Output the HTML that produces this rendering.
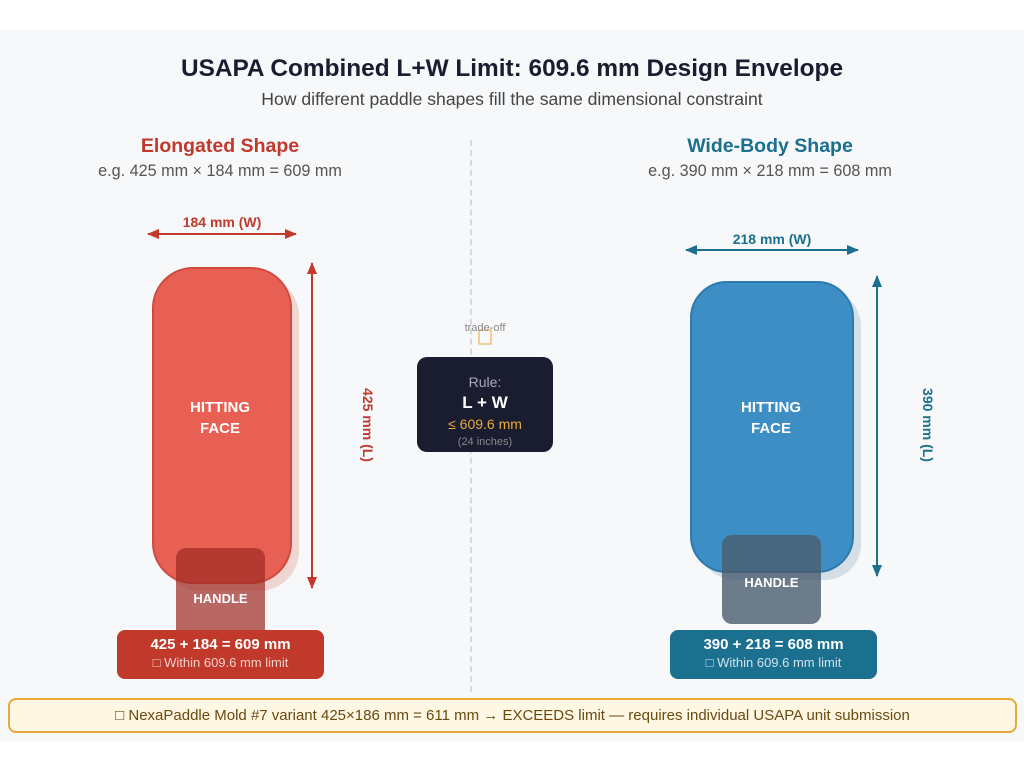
<!DOCTYPE html>
<html><head><meta charset="utf-8"><style>
body{margin:0;width:1024px;height:768px;background:#fff;font-family:"Liberation Sans",sans-serif;position:relative;overflow:hidden}
.a{position:absolute}
.c{text-align:center}
</style></head><body>
<div class="a" style="left:0;top:30px;width:1024px;height:712px;background:#f6f8fa"></div>
<div class="a c" style="left:0;top:55px;width:1024px;font-size:24.4px;font-weight:bold;color:#1a1c30">USAPA Combined L+W Limit: 609.6 mm Design Envelope</div>
<div class="a c" style="left:0;top:89px;width:1024px;font-size:17.6px;color:#444">How different paddle shapes fill the same dimensional constraint</div>
<div class="a" style="left:470px;top:140px;height:552px;border-left:2px dashed #d5d8dc"></div>

<div class="a c" style="left:70px;top:135px;width:300px;font-size:19.5px;font-weight:bold;color:#c0392b">Elongated Shape</div>
<div class="a c" style="left:70px;top:162px;width:300px;font-size:16.2px;color:#555">e.g. 425 mm × 184 mm = 609 mm</div>
<div class="a c" style="left:620px;top:135px;width:300px;font-size:19.5px;font-weight:bold;color:#1b6f8f">Wide-Body Shape</div>
<div class="a c" style="left:620px;top:162px;width:300px;font-size:16.2px;color:#555">e.g. 390 mm × 218 mm = 608 mm</div>

<svg class="a" style="left:0;top:0" width="1024" height="768">
<defs>
<marker id="r" markerUnits="userSpaceOnUse" markerWidth="12" markerHeight="10" refX="11" refY="5" orient="auto-start-reverse"><path d="M0,0L12,5L0,10z" fill="#c0392b"/></marker>
<marker id="b" markerUnits="userSpaceOnUse" markerWidth="12" markerHeight="10" refX="11" refY="5" orient="auto-start-reverse"><path d="M0,0L12,5L0,10z" fill="#1b6f8f"/></marker>
</defs>
<line x1="148" y1="234" x2="296" y2="234" stroke="#c0392b" stroke-width="2" marker-start="url(#r)" marker-end="url(#r)"/>
<line x1="312" y1="263" x2="312" y2="588" stroke="#c0392b" stroke-width="2" marker-start="url(#r)" marker-end="url(#r)"/>
<rect x="161" y="276" width="138" height="315" rx="40" fill="#f0d6d3"/>
<rect x="153" y="268" width="138" height="315" rx="40" fill="#e85f54" stroke="#cf4b40" stroke-width="2"/>
<rect x="176" y="548" width="89" height="92" rx="10" fill="#9e2a22" fill-opacity="0.7"/>
<line x1="686" y1="250" x2="858" y2="250" stroke="#1b6f8f" stroke-width="2" marker-start="url(#b)" marker-end="url(#b)"/>
<line x1="877" y1="276" x2="877" y2="576" stroke="#1b6f8f" stroke-width="2" marker-start="url(#b)" marker-end="url(#b)"/>
<rect x="699" y="290" width="162" height="290" rx="36" fill="#d3dee5"/>
<rect x="691" y="282" width="162" height="290" rx="36" fill="#3d8ec4" stroke="#2d7aae" stroke-width="2"/>
<rect x="722" y="535" width="99" height="89" rx="10" fill="#4a5d6e" fill-opacity="0.8"/>
<text x="363" y="425" transform="rotate(90 363 425)" text-anchor="middle" font-family="Liberation Sans" font-size="14" font-weight="bold" fill="#c0392b">425 mm (L)</text>
<text x="923" y="425" transform="rotate(90 923 425)" text-anchor="middle" font-family="Liberation Sans" font-size="14" font-weight="bold" fill="#1b6f8f">390 mm (L)</text>
<rect x="479" y="330" width="12" height="14" fill="none" stroke="#e8a93a" stroke-width="1"/>
</svg>
<div class="a c" style="left:148px;top:214px;width:148px;font-size:14px;font-weight:bold;color:#c0392b">184 mm (W)</div>
<div class="a c" style="left:686px;top:231px;width:172px;font-size:14px;font-weight:bold;color:#1b6f8f">218 mm (W)</div>
<div class="a c" style="left:153px;top:397px;width:134px;font-size:15px;font-weight:bold;color:#fff;line-height:21px">HITTING<br>FACE</div>
<div class="a c" style="left:691px;top:397px;width:160px;font-size:15px;font-weight:bold;color:#fff;line-height:21px">HITTING<br>FACE</div>
<div class="a c" style="left:176px;top:591px;width:89px;font-size:13px;font-weight:bold;color:#fff">HANDLE</div>
<div class="a c" style="left:722px;top:575px;width:99px;font-size:13px;font-weight:bold;color:#fff">HANDLE</div>
<div class="a c" style="left:117px;top:630px;width:207px;height:49px;background:#c0392b;border-radius:8px;color:#fff">
<div style="font-size:15px;font-weight:bold;margin-top:6px">425 + 184 = 609 mm</div>
<div style="font-size:13px;color:#f3cfcb;margin-top:2px">□ Within 609.6 mm limit</div></div>
<div class="a c" style="left:670px;top:630px;width:207px;height:49px;background:#1b6f8f;border-radius:8px;color:#fff">
<div style="font-size:15px;font-weight:bold;margin-top:6px">390 + 218 = 608 mm</div>
<div style="font-size:13px;color:#cfe3ec;margin-top:2px">□ Within 609.6 mm limit</div></div>
<div class="a c" style="left:440px;top:322px;width:90px;font-size:11px;color:#888">trade-off</div>
<div class="a c" style="left:417px;top:357px;width:136px;height:95px;background:#1a1c30;border-radius:10px">
<div style="font-size:14px;color:#aab;margin-top:17px">Rule:</div>
<div style="font-size:17px;font-weight:bold;color:#fff;margin-top:3px">L + W</div>
<div style="font-size:14px;color:#e8a93a;margin-top:3px">≤ 609.6 mm</div>
<div style="font-size:11px;color:#888;margin-top:4px">(24 inches)</div></div>
<div class="a c" style="left:8px;top:698px;width:1005px;height:31px;background:#fdf7e3;border:2px solid #e8a93a;border-radius:8px;font-size:15px;color:#6b4a10;line-height:31px">□ NexaPaddle Mold #7 variant 425×186 mm = 611 mm → EXCEEDS limit — requires individual USAPA unit submission</div>
</body></html>
